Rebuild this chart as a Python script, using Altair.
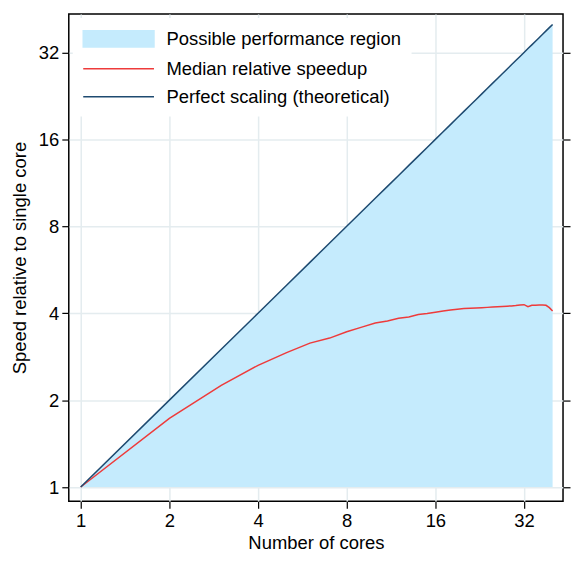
import altair as alt
import pandas as pd

cores = list(range(1, 41))
median_speedup = [1.00, 1.73, 2.25, 2.64, 2.92, 3.15, 3.28, 3.45, 3.58, 3.70,
                  3.76, 3.84, 3.88, 3.96, 3.99, 4.03, 4.07, 4.10, 4.13, 4.15,
                  4.16, 4.17, 4.18, 4.19, 4.20, 4.21, 4.22, 4.23, 4.24, 4.25,
                  4.27, 4.28, 4.21, 4.26, 4.26, 4.27, 4.27, 4.26, 4.18, 4.07]
perfect = cores
series_names = ["Possible performance region", "Median relative speedup", "Perfect scaling (theoretical)"]
series_colors = ["#c5ebfd", "#ee3b3b", "#1e4a70"]
tick_values = [1, 2, 4, 8, 16, 32]

area_df = pd.DataFrame({"cores": cores, "top": perfect, "base": [1] * len(cores),
                        "series": series_names[0]})
line_df = pd.concat([
    pd.DataFrame({"cores": cores, "speed": median_speedup, "series": series_names[1]}),
    pd.DataFrame({"cores": cores, "speed": perfect, "series": series_names[2]}),
])

FONT = "Liberation Sans"
FS = 18.5
xscale = alt.Scale(type="log", base=2, domain=[0.911, 43.4], nice=False, zero=False)
yscale = alt.Scale(type="log", base=2, domain=[0.893, 43.5], nice=False, zero=False)
cscale = alt.Scale(domain=series_names, range=series_colors)

xaxis = alt.Axis(values=tick_values, title="Number of cores", labelPadding=3, titlePadding=4)
yaxis = alt.Axis(values=tick_values, title="Speed relative to single core", labelPadding=3, titlePadding=9)

is_region = "datum.value == 'Possible performance region'"
legend = alt.Legend(
    title=None, orient="none", legendX=4, legendY=4,
    symbolType=alt.ExprRef(expr=f"{is_region} ? 'M-3.55,-0.82L3.55,-0.82L3.55,0.82L-3.55,0.82Z' : 'M-3.55,0L3.55,0'"),
    symbolSize=400, rowPadding=7,
    symbolOffset=25, symbolStrokeWidth=1.5,
    symbolFillColor=alt.ExprRef(expr=f"{is_region} ? '{series_colors[0]}' : 'transparent'"),
    labelFontSize=FS, labelFont=FONT, labelColor="black", labelOffset=37, labelLimit=0,
    fillColor="white", padding=10,
)

area = alt.Chart(area_df).mark_area(opacity=1).encode(
    x=alt.X("cores:Q", scale=xscale, axis=xaxis),
    y=alt.Y("top:Q", scale=yscale, axis=yaxis),
    y2="base:Q",
    color=alt.Color("series:N", scale=cscale, legend=legend),
)

lines = alt.Chart(line_df).mark_line(strokeWidth=1.5).encode(
    x=alt.X("cores:Q", scale=xscale),
    y=alt.Y("speed:Q", scale=yscale, axis=None),
    color=alt.Color("series:N", scale=cscale, legend=legend),
    detail="series:N",
)

right_ticks = alt.Chart(area_df).mark_line(opacity=0).encode(
    x=alt.X("cores:Q", scale=xscale),
    y=alt.Y("top:Q", scale=yscale,
            axis=alt.Axis(orient="right", values=tick_values, labels=False, grid=False, title=None)),
)

chart = alt.layer(area, lines, right_ticks).resolve_scale(y="independent").properties(
    width=496, height=489, padding={"left": 2, "top": 5, "right": 0, "bottom": 0}
).configure_view(stroke="black", strokeWidth=1.5).configure_axis(
    domain=False, tickColor="black", tickSize=7, tickWidth=1.2,
    gridColor="#e4ecef", gridWidth=1.5,
    labelFont=FONT, labelFontSize=FS, labelColor="black",
    titleFont=FONT, titleFontSize=FS, titleColor="black", titleFontWeight="normal",
)

chart.save("out.html", embed_options={"renderer": "svg", "actions": False})
